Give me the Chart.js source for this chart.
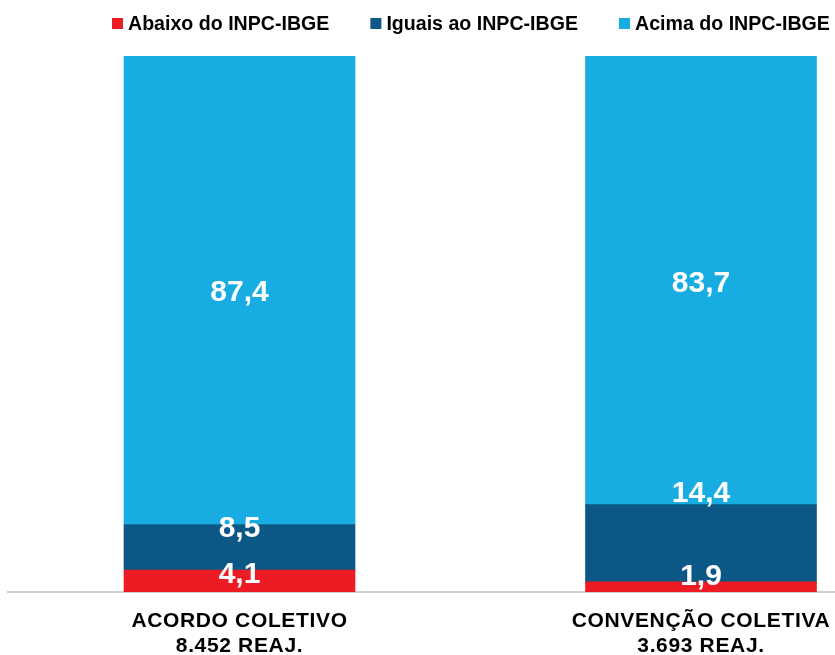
<!DOCTYPE html>
<html><head><meta charset="utf-8">
<script src="https://cdn.jsdelivr.net/npm/chart.js@4.4.1/dist/chart.umd.min.js"></script>
<style>html,body{margin:0;padding:0;background:#fff;overflow:hidden}#wrap{width:835px;height:655px;position:relative}</style>
</head><body><div id="wrap"><canvas id="c"></canvas></div>
<script>
const categories = [["ACORDO COLETIVO", "8.452 REAJ."], ["CONVENÇÃO COLETIVA", "3.693 REAJ."]];
const seriesNames = ["Abaixo do INPC-IBGE", "Iguais ao INPC-IBGE", "Acima do INPC-IBGE"];
const abaixo = [4.1, 1.9];
const iguais = [8.5, 14.4];
const acima = [87.4, 83.7];

const colors = ['#ED1C24', '#0B5886', '#17ACE2'];
const seriesValues = [abaixo, iguais, acima];
const FONT = '"Liberation Sans", Arial, sans-serif';

const datasets = seriesValues.map((vals, s) => ({
  label: seriesNames[s],
  data: vals.map((v, i) => ({ x: i, y: v })),
  backgroundColor: colors[s],
  borderWidth: 0,
  barThickness: 231
}));

const spacing = {
  id: 'spacing',
  beforeDraw(chart) { chart.ctx.letterSpacing = '0.65px'; },
  beforeDatasetsDraw(chart) { chart.ctx.letterSpacing = '0px'; }
};

const valueLabels = {
  id: 'valueLabels',
  afterDatasetsDraw(chart, args, opts) {
    const ctx = chart.ctx;
    ctx.save();
    ctx.letterSpacing = '0px';
    ctx.font = 'bold 30px ' + FONT;
    ctx.fillStyle = '#fff';
    ctx.textAlign = 'center';
    ctx.textBaseline = 'alphabetic';
    chart.data.datasets.forEach((ds, di) => {
      const meta = chart.getDatasetMeta(di);
      const off = opts.offsets[di];
      meta.data.forEach((el, j) => {
        const v = ds.data[j].y;
        const cy = off ? el.y + off[j] : (el.y + el.base) / 2 + 0.5;
        ctx.fillText(v.toFixed(1).replace('.', ','), el.x, cy + 0.358 * 30);
      });
    });
    ctx.restore();
  }
};

const legendDraw = {
  id: 'legendDraw',
  afterDraw(chart) {
    const ctx = chart.ctx;
    ctx.save();
    ctx.letterSpacing = '0px';
    ctx.font = 'bold 19.6px ' + FONT;
    ctx.textBaseline = 'alphabetic';
    ctx.textAlign = 'left';
    let x = 112;
    chart.data.datasets.forEach(ds => {
      ctx.fillStyle = ds.backgroundColor;
      ctx.fillRect(x, 18, 11, 11);
      ctx.fillStyle = '#000';
      ctx.fillText(ds.label, x + 16, 30);
      x += 16 + ctx.measureText(ds.label).width + 41;
    });
    ctx.restore();
  }
};

new Chart(document.getElementById('c'), {
  type: 'bar',
  data: { datasets },
  plugins: [spacing, valueLabels, legendDraw],
  options: {
    responsive: true,
    maintainAspectRatio: false,
    animation: false,
    layout: { padding: { top: 56, left: 8, right: 0, bottom: 0 } },
    plugins: {
      legend: { display: false },
      tooltip: { enabled: false },
      valueLabels: { offsets: [[2.7, -7.3], [2, -13.8], null] }
    },
    scales: {
      x: {
        type: 'linear',
        stacked: true,
        min: -0.50163,
        max: 1.29035,
        offset: false,
        grid: { display: false, drawTicks: false },
        border: { display: true, color: '#d0d0d0', width: 2 },
        afterBuildTicks: s => { s.ticks = categories.map((c, i) => ({ value: i })); },
        afterFit: s => { s.height = 63; s.paddingLeft = 0; s.paddingRight = 0; },
        ticks: {
          autoSkip: false,
          maxRotation: 0,
          minRotation: 0,
          padding: 16.3,
          color: '#000',
          font: { family: FONT, weight: 'bold', size: 21, lineHeight: '25px' },
          callback: v => categories[v]
        }
      },
      y: { stacked: true, display: false, min: 0, max: 100 }
    }
  }
});
</script>
</body></html>
